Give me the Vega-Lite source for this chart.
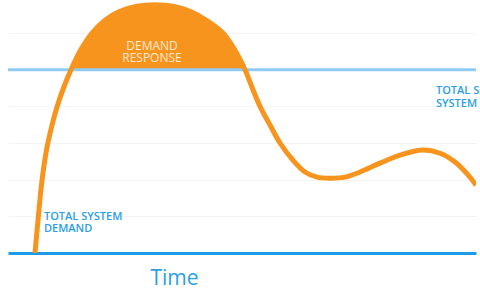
{
  "$schema": "https://vega.github.io/schema/vega-lite/v6.json",
  "width": 468,
  "height": 253,
  "autosize": {"type": "none"},
  "padding": {"left": 8, "top": 0, "right": 4, "bottom": 40},
  "background": "white",
  "config": {"view": {"stroke": null}},
  "datasets": {
    "curve": [
      {"t": 27, "v": 0},
      {"t": 30.3, "v": 0.98},
      {"t": 33.7, "v": 1.91},
      {"t": 38.5, "v": 2.81},
      {"t": 43.5, "v": 3.43},
      {"t": 49, "v": 3.98},
      {"t": 55.5, "v": 4.5},
      {"t": 63, "v": 5.0},
      {"t": 72.5, "v": 5.53},
      {"t": 84, "v": 6.0},
      {"t": 97, "v": 6.35},
      {"t": 112, "v": 6.59},
      {"t": 129, "v": 6.73},
      {"t": 147, "v": 6.77},
      {"t": 165, "v": 6.73},
      {"t": 182, "v": 6.59},
      {"t": 200, "v": 6.32},
      {"t": 215, "v": 6.0},
      {"t": 227, "v": 5.53},
      {"t": 237, "v": 5.0},
      {"t": 244, "v": 4.52},
      {"t": 252, "v": 4.0},
      {"t": 262, "v": 3.49},
      {"t": 272, "v": 3.0},
      {"t": 285, "v": 2.53},
      {"t": 297, "v": 2.21},
      {"t": 309, "v": 2.07},
      {"t": 322, "v": 2.04},
      {"t": 337, "v": 2.07},
      {"t": 352, "v": 2.21},
      {"t": 372, "v": 2.45},
      {"t": 392, "v": 2.67},
      {"t": 415, "v": 2.81},
      {"t": 432, "v": 2.72},
      {"t": 447, "v": 2.48},
      {"t": 460, "v": 2.13},
      {"t": 468, "v": 1.85}
    ],
    "one": [{"k": 1}]
  },
  "layer": [
    {
      "data": {"name": "curve"},
      "mark": {"type": "rule", "strokeWidth": 0},
      "encoding": {
        "x": {"field": "t", "type": "quantitative", "scale": {"domain": [0, 468], "nice": false, "zero": false},
          "axis": {"title": "Time", "labels": false, "ticks": false, "grid": false, "domain": true,
            "domainColor": "#1E9BE8", "domainWidth": 3, "titleColor": "#2AA0E6", "titleFont": "Open Sans",
            "titleFontSize": 21, "titleFontWeight": "normal", "titleAnchor": "start", "titleAlign": "center",
            "titleX": 166, "titleY": 25, "titleBaseline": "middle"}},
        "y": {"field": "v", "type": "quantitative", "scale": {"domain": [0, 6.9], "nice": false},
          "axis": {"title": null, "labels": false, "ticks": false, "domain": false, "grid": true,
            "values": [1, 2, 3, 4, 6], "gridColor": "#f4f4f4", "gridWidth": 1}}
      }
    },
    {
      "data": {"name": "curve"},
      "transform": [{"filter": "datum.t >= 63 && datum.t <= 237"}],
      "mark": {"type": "area", "interpolate": "catmull-rom", "color": "#F7941D"},
      "encoding": {
        "x": {"field": "t", "type": "quantitative"},
        "y": {"field": "v", "type": "quantitative"},
        "y2": {"datum": 5}
      }
    },
    {
      "data": {"name": "one"},
      "mark": {"type": "rule", "color": "#8FCBF5", "strokeWidth": 3},
      "encoding": {"y": {"datum": 5}}
    },
    {
      "data": {"name": "curve"},
      "mark": {"type": "line", "interpolate": "catmull-rom", "color": "#F7941D", "strokeWidth": 5, "clip": true},
      "encoding": {
        "x": {"field": "t", "type": "quantitative"},
        "y": {"field": "v", "type": "quantitative"}
      }
    },
    {
      "data": {"name": "one"},
      "mark": {"type": "text", "text": ["DEMAND", "RESPONSE"], "color": "#FDE9D2", "font": "Open Sans", "fontSize": 12, "lineHeight": 12, "align": "center", "baseline": "middle"},
      "encoding": {"x": {"datum": 144}, "y": {"datum": 5.64}}
    },
    {
      "data": {"name": "one"},
      "mark": {"type": "text", "text": ["TOTAL SYSTEM", "DEMAND"], "color": "#2AA0E6", "font": "Open Sans", "fontSize": 11, "fontWeight": 600, "lineHeight": 12, "align": "left", "baseline": "middle"},
      "encoding": {"x": {"datum": 36}, "y": {"datum": 0.98}}
    },
    {
      "data": {"name": "one"},
      "mark": {"type": "text", "text": ["TOTAL SUPPLY", "SYSTEM CAPACITY"], "color": "#2AA0E6", "font": "Open Sans", "fontSize": 11, "fontWeight": 600, "lineHeight": 13, "align": "left", "baseline": "middle"},
      "encoding": {"x": {"datum": 428}, "y": {"datum": 4.43}}
    }
  ]
}
